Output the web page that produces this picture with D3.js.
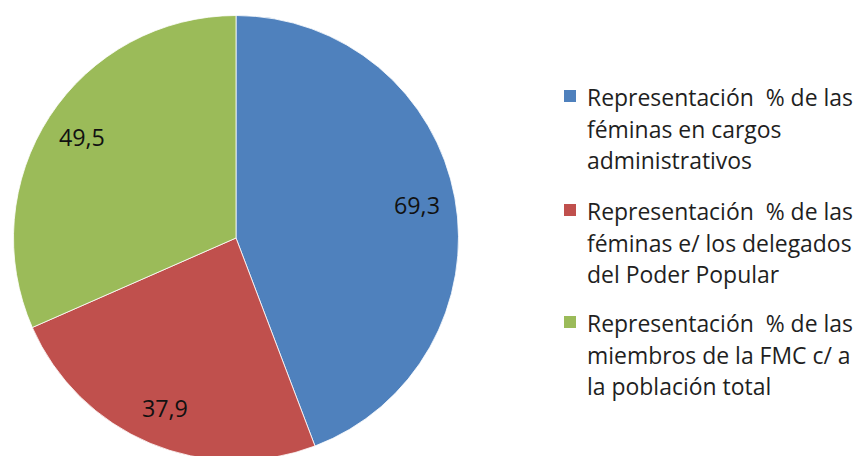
<!DOCTYPE html>
<html>
<head>
<meta charset="utf-8">
<script src="https://cdn.jsdelivr.net/npm/d3@7"></script>
<style>
  html, body { margin: 0; padding: 0; background: #fff; }
  svg { display: block; }
  text { font-family: "Open Sans", Lato, sans-serif; }
</style>
</head>
<body>
<svg id="chart" width="856" height="456"></svg>
<script>
// Series
const categories = [
  ["Representación  % de las", "féminas en cargos", "administrativos"],
  ["Representación  % de las", "féminas e/ los delegados", "del Poder Popular"],
  ["Representación  % de las", "miembros de la FMC c/ a", "la población total"]
];
const values = [69.3, 37.9, 49.5];
const valueLabels = ["69,3", "37,9", "49,5"];
const colors = ["#4F81BD", "#C0504D", "#9BBB59"];

const svg = d3.select("#chart");
const cx = 236, cy = 238, r = 222.5;

const pie = d3.pie().sort(null).value(d => d)(values);
const arc = d3.arc().innerRadius(0).outerRadius(r);
const labelArc = d3.arc().innerRadius(184).outerRadius(184);

const g = svg.append("g").attr("transform", `translate(${cx},${cy})`);

g.selectAll("path.slice")
  .data(pie)
  .join("path")
  .attr("class", "slice")
  .attr("d", arc)
  .attr("fill", (d, i) => colors[i])
  .attr("stroke", "#ffffff")
  .attr("stroke-width", 0.8);

const valText = g.selectAll("text.val")
  .data(pie)
  .join("text")
  .attr("class", "val")
  .attr("transform", d => `translate(${labelArc.centroid(d)})`)
  .attr("text-anchor", "middle")
  .attr("dominant-baseline", "central")
  .attr("font-size", 19)
  .attr("fill", "#111")
  .text((d, i) => valueLabels[i]);

// size the value labels to their Calibri-like width (~46px for "69,3")
{
  const w = valText.node().getComputedTextLength();
  valText.attr("font-size", 19 * 46 / w);
}

// Legend
const legend = svg.append("g");
const entryTop = [97, 211, 323];
const lineGap = 31.5;
const legendTexts = [];
categories.forEach((lines, i) => {
  legend.append("rect")
    .attr("x", 564)
    .attr("y", entryTop[i] - 7)
    .attr("width", 12)
    .attr("height", 12)
    .attr("fill", colors[i]);
  lines.forEach((t, j) => {
    legendTexts.push(legend.append("text")
      .attr("x", 587)
      .attr("y", entryTop[i] + j * lineGap)
      .attr("dominant-baseline", "central")
      .attr("font-size", 20)
      .attr("fill", "#1f1f1f")
      .style("white-space", "pre")
      .text(t));
  });
});

// fit the legend font so the widest line spans the legend column (~266px)
{
  const w = legendTexts[0].node().getComputedTextLength();
  const fs = 20 * 266 / w;
  legendTexts.forEach(t => t.attr("font-size", fs));
}
</script>
</body>
</html>
